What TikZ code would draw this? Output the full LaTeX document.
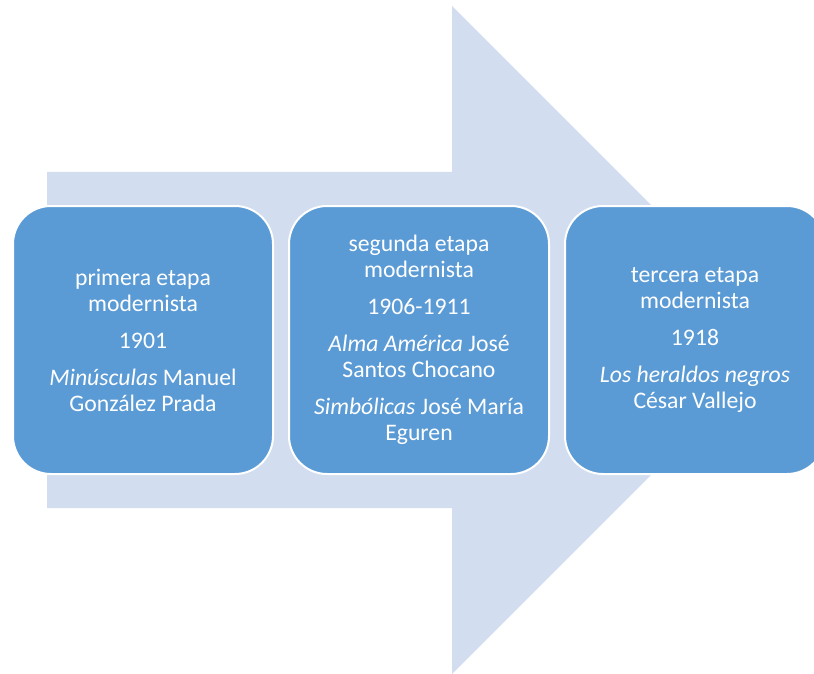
\documentclass[tikz,border=0pt]{standalone}
\usepackage{fontspec}
\setmainfont{Carlito}
\usetikzlibrary{positioning}

\definecolor{flecha}{HTML}{D2DEEF}
\definecolor{caja}{HTML}{5B9BD5}
\tikzset{etapa/.style={draw=white, line width=2pt, fill=caja, rounded corners=38pt,
    minimum width=260pt, minimum height=268pt, inner sep=0pt,
    text=white, align=center, font=\fontsize{23.7}{26}\selectfont,
    execute at begin node=\rule{0pt}{24pt}}}

\begin{document}
\begin{tikzpicture}[x=1pt,y=-1pt]
  \clip (0,0) rectangle (814,674);
  % flecha de fondo
  \fill[flecha] (47,172) -- (452,172) -- (452,6) -- (786,340) -- (452,674)
    -- (452,508) -- (47,508) -- cycle;
  % etapas
  \node[etapa] (etapa1) at (143,340) {primera etapa\\modernista\\[11pt]1901\\[11pt]%
    \textit{Minúsculas} Manuel\\González Prada};
  \node[etapa, right=14pt of etapa1] (etapa2) {segunda etapa\\modernista\\[11pt]1906-1911\\[11pt]%
    \textit{Alma América} José\\Santos Chocano\\[11pt]\textit{Simbólicas} José María\\Eguren};
  \node[etapa, right=14pt of etapa2] (etapa3) {tercera etapa\\modernista\\[11pt]1918\\[11pt]%
    \textit{Los heraldos negros}\\César Vallejo};
\end{tikzpicture}
\end{document}
